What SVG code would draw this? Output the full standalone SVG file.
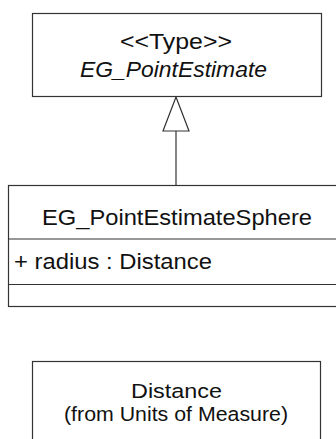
<svg xmlns="http://www.w3.org/2000/svg" width="336" height="439" viewBox="0 0 336 439">
<style>
.box{fill:#fff;stroke:#333;stroke-width:1.2}
.ln{fill:none;stroke:#333;stroke-width:1.2}
text{font-family:"Liberation Sans",Arial,sans-serif;font-size:22.5px;fill:#111}
.i{font-style:italic}
.s{font-size:20.5px}
</style>
<rect width="336" height="439" fill="#fff"/>
<g id="connectors">
<line class="ln" x1="176" y1="131" x2="176" y2="185"/>
<polygon class="box" points="176,97 163,131 189,131"/>
</g>
<g id="EG_PointEstimate">
<rect class="box" x="32.5" y="13.5" width="289" height="83"/>
<text x="120" y="49" textLength="112" lengthAdjust="spacingAndGlyphs">&lt;&lt;Type&gt;&gt;</text>
<text class="i" x="80" y="77" textLength="187" lengthAdjust="spacingAndGlyphs">EG_PointEstimate</text>
</g>
<g id="EG_PointEstimateSphere">
<rect class="box" x="8.5" y="185.5" width="340" height="121"/>
<line class="ln" x1="8.5" y1="239" x2="348" y2="239"/>
<line class="ln" x1="8.5" y1="284.5" x2="348" y2="284.5"/>
<text x="42" y="225" textLength="270" lengthAdjust="spacingAndGlyphs">EG_PointEstimateSphere</text>
<text x="14" y="269" textLength="198" lengthAdjust="spacingAndGlyphs">+ radius : Distance</text>
</g>
<g id="Distance">
<rect class="box" x="32.5" y="361.5" width="288" height="90"/>
<text class="s" x="131" y="398" textLength="91" lengthAdjust="spacingAndGlyphs">Distance</text>
<text class="s" x="64" y="421" textLength="224" lengthAdjust="spacingAndGlyphs">(from Units of Measure)</text>
</g>
</svg>
